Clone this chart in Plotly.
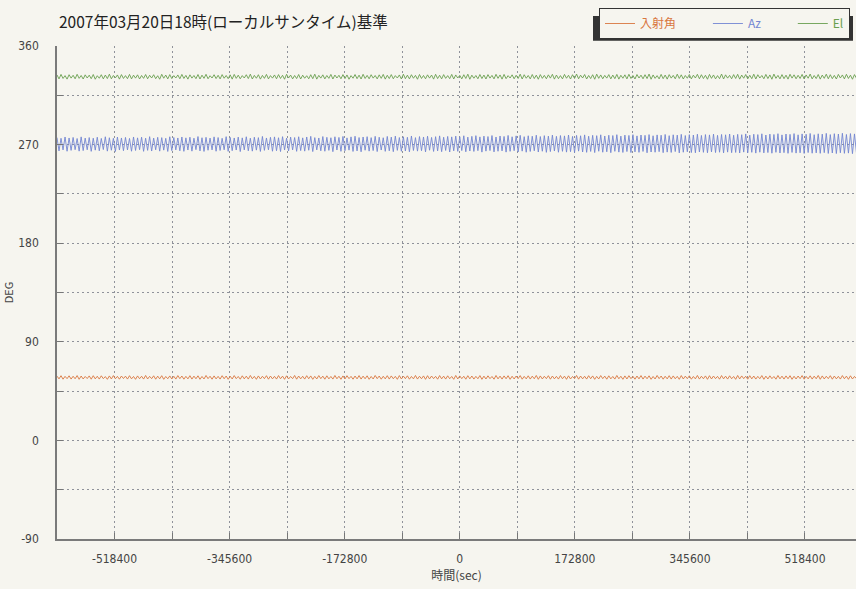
import numpy as np
import plotly.graph_objects as go

# ---- data ----
title_text = "2007年03月20日18時(ローカルサンタイム)基準"
series_names = ["入射角", "Az", "El"]
x_tick_vals = [-604800, -518400, -432000, -345600, -259200, -172800, -86400, 0,
               86400, 172800, 259200, 345600, 432000, 518400, 604800]
x_tick_text = ["", "-518400", "", "-345600", "", "-172800", "", "0",
               "", "172800", "", "345600", "", "518400", ""]
y_tick_vals = [-90, -45, 0, 45, 90, 135, 180, 225, 270, 315, 360]
y_tick_text = ["-90", "", "0", "", "90", "", "180", "", "270", "", "360"]

t_start = -604800
t_step = 3024  # sample interval (s)

el_vals = [
333.4,329.8,333.9,330.2,332.8,329.6,333.6,330.5,333.1,329.9,334.0,330.3,332.9,329.7,333.5,330.6,333.2,330.0,333.8,329.5,
332.7,330.4,333.6,329.8,333.3,330.1,334.1,329.9,332.9,330.7,333.4,329.6,333.7,330.2,332.8,330.0,333.9,329.8,333.2,330.5,
333.5,329.7,332.9,330.3,333.8,329.9,333.1,330.6,333.6,330.0,332.7,329.5,334.0,330.4,333.3,329.8,333.7,330.1,332.8,330.6,
333.4,329.9,333.9,330.2,333.0,329.6,333.5,330.5,332.9,330.0,333.8,329.7,333.2,330.3,334.0,329.9,332.7,330.6,333.6,330.1,
333.1,329.8,333.7,330.4,332.9,330.0,333.5,329.6,333.9,330.3,333.2,329.9,332.8,330.6,333.6,330.1,334.1,329.7,333.0,330.4,
333.6,329.6,333.0,330.3,333.9,329.8,332.8,330.5,333.4,329.9,333.7,330.2,333.1,329.5,334.0,330.6,333.3,329.8,332.9,330.1,
333.8,329.7,333.2,330.4,332.7,329.9,333.6,330.0,334.1,329.6,333.0,330.5,333.5,329.8,332.9,330.3,333.9,329.7,333.3,330.6,
333.1,329.9,333.7,330.1,333.4,329.5,332.8,330.4,333.8,330.0,333.2,329.7,334.0,330.2,333.0,329.9,333.6,330.5,332.9,329.8,
333.5,330.3,333.9,329.6,333.1,330.1,333.7,329.9,332.8,330.6,333.4,329.7,334.1,330.0,333.2,329.8,333.6,330.4,333.0,329.5,
333.8,330.2,332.9,329.9,333.5,330.5,333.3,329.6,334.0,330.1,333.1,329.8,333.7,330.3,332.8,330.0,333.9,329.7,333.4,330.6,
333.0,329.8,333.6,330.2,334.1,329.5,333.2,330.4,332.9,329.9,333.8,330.1,333.3,329.7,333.7,330.5,333.0,329.8,334.0,330.3,
333.4,329.6,333.9,330.0,332.8,330.6,333.5,329.9,333.1,330.2,334.1,329.7,333.6,330.4,332.9,329.8,333.8,330.1,333.2,329.5,
333.7,330.3,333.0,329.9,333.5,330.5,334.0,329.6,333.3,330.0,332.8,329.8,333.9,330.4,333.1,329.7,333.6,330.2,334.2,329.9,
333.2,330.6,333.8,329.7,332.9,330.1,333.6,329.5,334.1,330.3,333.4,329.9,333.0,330.5,333.7,329.8,333.3,330.0,333.9,329.6,
333.1,330.4,333.5,329.8,334.0,330.2,332.9,329.7,333.8,330.6,333.2,329.9,333.6,330.1,334.2,329.5,333.4,330.3,332.8,329.8,
333.9,330.0,333.3,329.6,333.7,330.5,333.0,329.9,334.1,330.2,333.5,329.7,332.9,330.4,333.8,329.8,333.2,330.6,334.0,329.9,
333.6,330.1,333.1,329.5,333.9,330.3,333.4,329.8,332.8,330.0,334.2,329.7,333.5,330.5,333.0,329.9,333.7,330.2,334.0,329.6,
333.3,330.4,333.8,329.8,333.1,330.0,334.1,329.7,333.6,330.6,332.9,329.9,333.9,330.1,333.4,329.5,334.2,330.3,333.0,329.8,
333.7,330.0,333.2,329.6,334.0,330.5,333.5,329.9,333.1,330.2,333.9,329.7,333.4,330.4,334.2,329.8,332.9,330.1,333.8,329.6,
333.3,330.3,334.1,329.9,333.6,330.0,333.0,329.7,333.9,330.6,333.4,329.8,334.0,330.2,333.2,329.5,333.7,330.4,334.1,329.9,
333.5]

az_vals = [
276.2,264.1,275.6,265.0,276.8,263.8,275.9,264.6,276.4,265.2,275.4,263.9,276.9,264.4,275.8,265.1,276.3,263.7,275.7,264.8,
276.6,264.2,275.5,265.3,277.0,263.9,276.1,264.7,275.6,263.6,276.7,264.9,275.9,264.3,276.4,265.0,275.5,263.8,276.8,264.5,
276.0,265.2,276.6,263.7,275.7,264.6,277.1,264.0,275.8,265.1,276.5,263.9,276.2,264.8,275.6,263.6,277.0,264.4,276.3,265.0,
275.9,264.2,276.8,263.7,276.0,264.9,276.6,263.9,275.7,265.2,277.2,264.1,276.1,263.6,276.5,264.7,275.8,265.0,276.9,263.8,
276.3,264.5,275.6,265.1,277.1,263.7,276.4,264.3,275.9,264.9,276.7,263.5,276.0,265.0,277.0,264.2,275.7,263.9,276.6,264.8,
276.2,263.6,277.3,264.6,275.9,265.1,276.5,263.8,276.9,264.3,276.1,263.5,277.1,264.9,275.8,264.1,276.7,265.0,276.3,263.7,
277.0,264.4,276.0,263.9,276.8,264.7,277.4,263.5,276.2,265.0,275.9,264.2,277.2,263.8,276.5,264.6,276.1,263.4,277.0,264.9,
276.4,263.7,277.3,264.3,276.0,264.8,276.9,263.6,277.5,264.1,276.3,263.3,276.8,264.7,277.1,263.9,276.2,264.4,277.4,263.5,
276.6,264.9,276.1,263.7,277.3,264.2,276.7,263.4,277.6,264.6,276.3,263.8,277.0,264.0,276.5,263.3,277.7,264.5,276.2,263.9,
277.2,264.3,276.8,263.2,277.5,264.7,276.4,263.6,277.1,264.1,277.8,263.4,276.6,264.5,277.3,263.1,276.9,264.2,277.6,263.7,
277.0,264.4,277.9,263.3,276.7,264.0,277.4,263.6,278.0,264.3,276.9,263.0,277.6,263.9,277.2,264.4,278.1,263.2,276.8,263.8,
277.7,264.1,277.3,263.0,278.2,263.7,277.0,264.3,277.8,263.2,278.3,263.9,277.1,262.9,277.9,263.6,277.5,264.2,278.4,263.1,
277.2,263.8,278.0,262.8,277.6,263.5,278.5,264.0,277.4,262.9,278.1,263.7,277.8,263.0,278.6,263.4,277.3,262.7,278.2,263.9,
277.9,263.1,278.7,262.8,277.5,263.6,278.3,262.6,278.0,263.8,278.8,262.9,277.7,263.3,278.4,262.5,278.1,263.7,278.9,263.0,
277.6,262.7,278.5,263.5,278.2,262.6,278.9,263.2,277.8,262.8,278.6,263.6,278.3,262.4,279.0,263.1,277.9,262.9,278.7,263.4,
278.4,262.5,279.1,263.0,278.0,262.7,278.8,263.5,278.5,262.3,279.2,262.9,278.1,263.3,278.9,262.6,278.6,262.4,279.3,263.1,
278.2,262.8,279.0,262.4,278.7,263.2,279.4,262.6,278.3,262.9,279.1,262.3,278.8,263.0,279.5,262.5,278.4,262.7,279.2,262.2,
278.9,263.0,279.6,262.4,278.5,262.8,279.3,262.1,279.0,262.9,279.7,262.3,278.6,262.6,279.4,262.0,279.1,262.8,279.8,262.2,
278.7,262.5,279.5,261.9,279.2,262.7,279.9,262.1,278.8,262.4,279.6,261.8,279.3,262.6,280.0,262.0,278.9,262.3,279.7,261.9,
279.4,262.5,280.1,261.8,279.0,262.2,279.8,261.7,279.5,262.4,280.2,261.9,279.1,262.1,279.9,261.6,279.6,262.3,280.3,261.8,
279.2]

inc_vals = [
58.6,56.1,59.0,55.8,58.4,56.3,58.9,55.9,58.5,56.2,59.1,55.7,58.7,56.0,58.3,56.4,58.8,55.8,59.0,56.1,
58.5,55.9,58.9,56.3,58.2,55.7,58.8,56.0,59.1,56.2,58.4,55.8,58.7,56.4,58.6,55.9,59.0,56.1,58.3,55.7,
58.8,56.2,58.5,55.9,59.2,56.0,58.4,56.3,58.9,55.8,58.6,56.1,59.0,55.7,58.3,56.2,58.8,56.0,58.5,55.9,
59.1,56.3,58.7,55.8,58.4,56.1,59.0,55.9,58.6,56.2,58.9,55.7,58.3,56.0,59.2,56.3,58.5,55.8,58.8,56.1,
58.4,55.9,59.0,56.2,58.7,55.7,58.5,56.0,59.1,56.3,58.3,55.8,58.9,56.1,58.6,55.9,59.2,56.2,58.4,55.7,
58.8,56.0,58.5,56.3,59.0,55.8,58.7,56.1,58.4,55.9,59.1,56.2,58.6,55.7,58.9,56.0,58.3,56.3,59.2,55.8,
58.7,56.1,58.5,55.9,59.0,56.2,58.8,55.7,58.4,56.0,59.1,56.3,58.6,55.8,58.9,56.1,58.3,55.9,59.2,56.2,
58.5,55.7,58.8,56.0,59.0,56.3,58.4,55.8,58.7,56.1,59.1,55.9,58.6,56.2,58.9,55.7,58.3,56.0,59.2,56.3,
58.7,55.8,58.5,56.1,59.0,55.9,58.8,56.2,58.4,55.7,59.1,56.0,58.6,56.3,58.9,55.8,58.3,56.1,59.2,55.9,
58.5,56.2,58.8,55.7,59.0,56.0,58.7,56.3,58.4,55.8,59.1,56.1,58.6,55.9,58.9,56.2,58.3,55.7,59.2,56.0,
58.8,56.3,58.5,55.8,59.0,56.1,58.7,55.9,58.4,56.2,59.1,55.7,58.6,56.0,58.9,56.3,58.3,55.8,59.2,56.1,
58.6,55.9,58.8,56.2,59.0,55.7,58.5,56.0,58.7,56.3,59.1,55.8,58.4,56.1,58.9,55.9,58.6,56.2,59.2,55.7,
58.8,56.0,58.5,56.3,59.0,55.8,58.7,56.1,58.4,55.9,59.1,56.2,58.6,55.7,58.9,56.0,58.3,56.3,59.2,55.8,
58.7,56.1,58.5,55.9,59.0,56.2,58.8,55.7,58.4,56.0,59.1,56.3,58.6,55.8,58.9,56.1,58.3,55.9,59.2,56.2,
58.5,55.7,58.8,56.0,59.0,56.3,58.4,55.8,58.7,56.1,59.1,55.9,58.6,56.2,58.9,55.7,58.3,56.0,59.2,56.3,
58.7,55.8,58.5,56.1,59.0,55.9,58.8,56.2,58.4,55.7,59.1,56.0,58.6,56.3,58.9,55.8,58.3,56.1,59.2,55.9,
58.5,56.2,58.8,55.7,59.0,56.0,58.7,56.3,58.4,55.8,59.1,56.1,58.6,55.9,58.9,56.2,58.3,55.7,59.2,56.0,
58.8,56.3,58.5,55.8,59.0,56.1,58.7,55.9,58.4,56.2,59.1,55.7,58.6,56.0,58.9,56.3,58.3,55.8,59.2,56.1,
58.6,55.9,58.8,56.2,59.0,55.7,58.5,56.0,58.7,56.3,59.1,55.8,58.4,56.1,58.9,55.9,58.6,56.2,59.2,55.7,
58.8,56.0,58.5,56.3,59.0,55.8,58.7,56.1,58.4,55.9,59.1,56.2,58.6,55.7,58.9,56.0,58.3,56.3,59.2,55.8,
58.7]

series_colors = ["#d9773f", "#7386d2", "#6a9f4f"]
legend_pad = ["&nbsp;" * 10, "&nbsp;" * 10, ""]

# ---- figure ----
t_vals = t_start + t_step * np.arange(len(el_vals))
W, H = 856, 589
ML, MR, MT, MB = 57, 0, 41, 50
PW, PH = W - ML - MR, H - MT - MB
BG = "#f6f5ef"
FONT = "Noto Sans CJK JP, Liberation Sans Narrow, Liberation Sans, sans-serif"
NUMFONT = "Liberation Sans Narrow, DejaVu Sans Condensed, sans-serif"
GRID = "#8f929a"


def px_x(px):
    return (px - ML) / PW


def px_y(py):
    return (H - MB - py) / PH


fig = go.Figure()
for name, vals, col, pad in zip(series_names, [inc_vals, az_vals, el_vals], series_colors, legend_pad):
    fig.add_trace(go.Scatter(
        x=t_vals, y=vals, mode="lines", line=dict(color=col, width=0.9),
        name=f"<span style='color:{col}'>{name}</span>{pad}",
        hoverinfo="skip",
    ))

fig.update_layout(
    width=W, height=H,
    paper_bgcolor=BG, plot_bgcolor=BG,
    margin=dict(l=ML, r=MR, t=MT, b=MB),
    font=dict(family=FONT, size=12, color="#444"),
    showlegend=True,
    legend=dict(
        orientation="h",
        xref="container", yref="container",
        x=850 / W, xanchor="right",
        y=1 - 8 / H, yanchor="top",
        bgcolor=BG, bordercolor="#333", borderwidth=1,
        font=dict(size=12, family=FONT),
        itemwidth=30,
    ),
    xaxis=dict(
        range=[-604800, 595000],
        tickmode="array", tickvals=x_tick_vals, ticktext=x_tick_text,
        showgrid=True, gridcolor=GRID, griddash="2px,3px", gridwidth=1,
        zeroline=False,
        showline=True, linecolor="#7a7a7a", linewidth=1.5,
        ticks="inside", ticklen=6, tickcolor="#777", tickwidth=1,
        ticklabelstandoff=8,
        tickfont=dict(size=12, color="#444", family=NUMFONT),
        title=dict(text="時間(sec)", standoff=6, font=dict(size=12, color="#444")),
        fixedrange=True,
    ),
    yaxis=dict(
        range=[-90, 360],
        tickmode="array", tickvals=y_tick_vals, ticktext=y_tick_text,
        showgrid=True, gridcolor=GRID, griddash="2px,3px", gridwidth=1,
        zeroline=False,
        showline=True, linecolor="#7a7a7a", linewidth=1.5,
        ticks="inside", ticklen=6, tickcolor="#777", tickwidth=1,
        ticklabelstandoff=14,
        tickfont=dict(size=12, color="#444", family=NUMFONT),
        title=dict(text="DEG", standoff=6, font=dict(size=11, color="#444")),
        fixedrange=True,
    ),
    annotations=[dict(
        text=title_text, xref="paper", yref="paper",
        x=0, xanchor="left", y=px_y(16), yanchor="middle",
        showarrow=False, font=dict(size=15.5, color="#222", family=FONT),
    )],
    shapes=[dict(
        type="rect", xref="paper", yref="paper", layer="above",
        x0=px_x(593), x1=px_x(853),
        y0=px_y(36), y1=px_y(11),
        fillcolor="#333", line=dict(width=0),
    )],
)

fig.write_html("out.html", config={"displayModeBar": False})
